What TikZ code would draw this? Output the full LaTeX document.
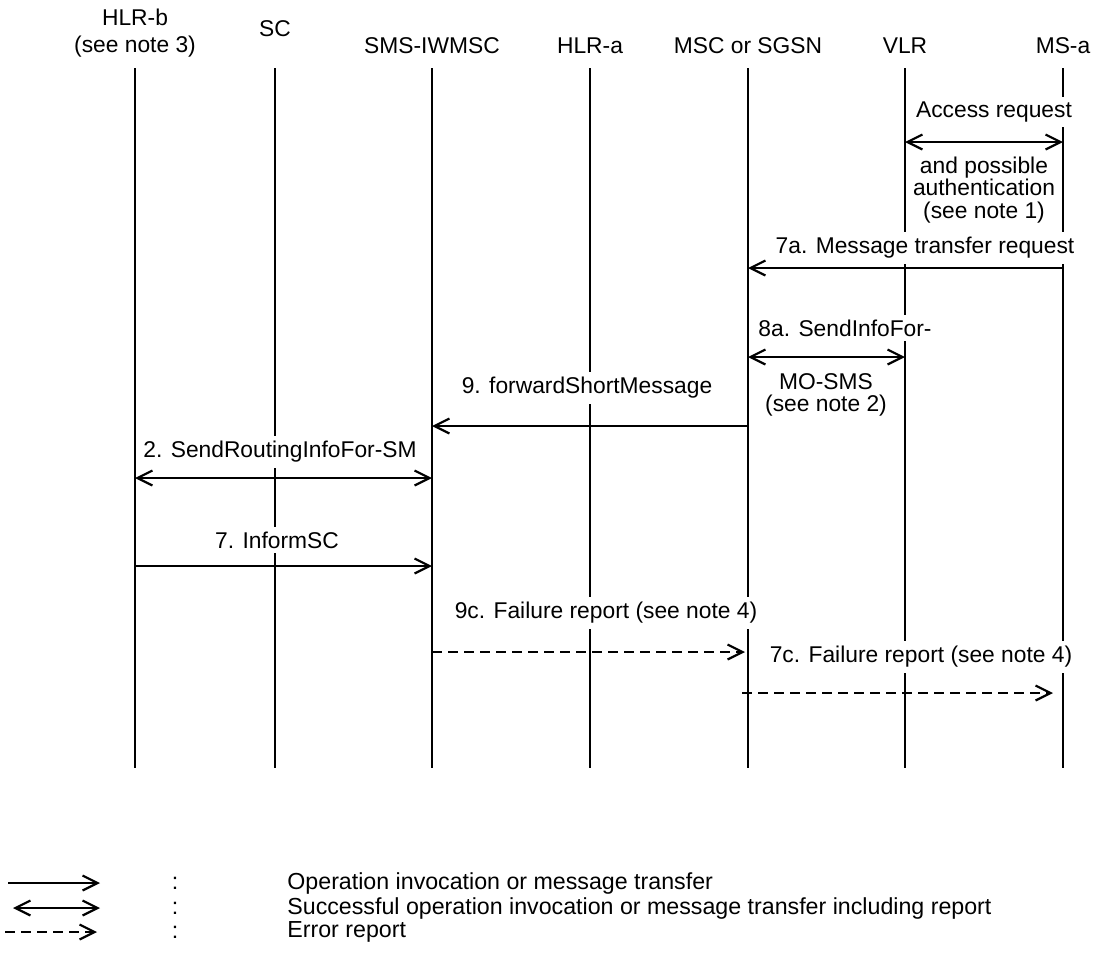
\documentclass[tikz,border=0pt]{standalone}
\usepackage{fontspec}
\setmainfont{Liberation Sans}
\usetikzlibrary{arrows.meta}
\begin{document}
\begin{tikzpicture}[x=0.5pt,y=-0.5pt,>={Straight Barb[length=7.5pt,width=7.5pt]}]
  \tikzstyle{entity}=[font=\fontsize{11.4}{13.5}\selectfont, align=center, fill=white, inner sep=1pt]
  \tikzstyle{lbl}=[font=\fontsize{11.4}{11.3}\selectfont, align=center, fill=white, inner sep=2.5pt]
  \tikzstyle{key}=[font=\fontsize{11.6}{11.3}\selectfont, inner sep=0pt]
  \tikzstyle{lifeline}=[line width=0.55pt]
  \tikzstyle{msg}=[line width=1.1pt]
  \tikzstyle{err}=[line width=1.1pt, dash pattern=on 5pt off 3pt]
  \useasboundingbox (0,0) rectangle (1093,954);

  % Entities
  \node[entity] (hlrb) at (135,33) {HLR-b\\(see note 3)};
  \node[entity] (sc) at (275,29) {SC};
  \node[entity] (iwmsc) at (432,46) {SMS-IWMSC};
  \node[entity] (hlra) at (590,46) {HLR-a};
  \node[entity] (msc) at (748,46) {MSC or SGSN};
  \node[entity] (vlr) at (905,46) {VLR};
  \node[entity] (msa) at (1063,46) {MS-a};

  % Lifelines
  \coordinate (top) at (0,68);
  \coordinate (bot) at (0,768);
  \foreach \n in {hlrb,sc,iwmsc,hlra,msc,vlr,msa}
    \draw[lifeline] (\n |- top) -- (\n |- bot);

  % Labels
  \node[lbl] (l1) at (994,112) {Access request};
  \node[lbl] (l1b) at (984,190) {and possible\\authentication\\(see note 1)};
  \node[lbl] (l2) at (925,248) {7a. Message transfer request};
  \node[lbl] (l3) at (845,328) {8a. SendInfoFor-};
  \node[lbl] (l3b) at (826,395) {MO-SMS\\(see note 2)};
  \node[lbl] (l4) at (587,388) {9. forwardShortMessage};
  \node[lbl] (l5) at (280,452) {2. SendRoutingInfoFor-SM};
  \node[lbl] (l6) at (277,540) {7. InformSC};
  \node[lbl] (l7) at (606,613) {9c. Failure report (see note 4)};
  \node[lbl] (l8) at (921,657) {7c. Failure report (see note 4)};

  % Messages
  \coordinate (m1) at (0,142);
  \coordinate (m2) at (0,268);
  \coordinate (m3) at (0,357);
  \coordinate (m4) at (0,426);
  \coordinate (m5) at (0,478);
  \coordinate (m6) at (0,566);
  \coordinate (m7) at (0,652);
  \coordinate (m8) at (0,693);
  \draw[msg,<->] (vlr |- m1) -- (msa |- m1);
  \draw[msg,->] (msa |- m2) -- (msc |- m2);
  \draw[msg,<->] (msc |- m3) -- (vlr |- m3);
  \draw[msg,->] (msc |- m4) -- (iwmsc |- m4);
  \draw[msg,<->] (hlrb |- m5) -- (iwmsc |- m5);
  \draw[msg,->] (hlrb |- m6) -- (iwmsc |- m6);
  \draw[err,->,shorten >=1.5pt] (iwmsc |- m7) -- (msc |- m7);
  \draw[err,->,shorten <=-3pt,shorten >=5pt] (msc |- m8) -- (msa |- m8);

  % Legend
  \coordinate (k1a) at (8,883);   \coordinate (k1b) at (100,883);
  \coordinate (k2a) at (13,908);  \coordinate (k2b) at (100,908);
  \coordinate (k3a) at (5,932);   \coordinate (k3b) at (97,932);
  \draw[msg,->] (k1a) -- (k1b);
  \draw[msg,<->] (k2a) -- (k2b);
  \draw[err,->] (k3a) -- (k3b);
  \node[key] (c1) at (175,883) {:};
  \node[key] (c2) at (175,908) {:};
  \node[key] (c3) at (175,932) {:};
  \node[key, anchor=west] (t1) at (287,883) {Operation invocation or message transfer};
  \node[key, anchor=west] (t2) at (287,908) {Successful operation invocation or message transfer including report};
  \node[key, anchor=west] (t3) at (287,932) {Error report};
\end{tikzpicture}
\end{document}
